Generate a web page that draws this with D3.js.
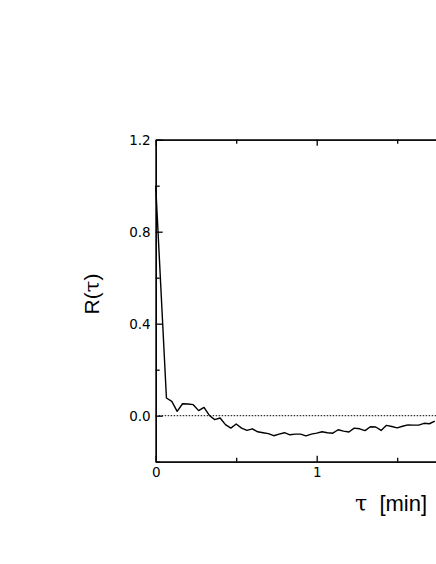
<!DOCTYPE html>
<meta charset="utf-8">
<style>
  body { margin: 0; background: white; }
  svg text { font-family: "Liberation Sans", Arial, sans-serif; fill: black; }
  .tick text { font-family: "DejaVu Sans", sans-serif; font-size: 13.5px; }
</style>
<body>
<div id="chart"></div>
<script src="https://d3js.org/d3.v7.min.js"></script>
<script>

// lag in minutes (2 s steps) and autocorrelation R(tau)
var tau = [0, 2, 3, 4, 5, 6, 7, 8, 9, 10, 11, 12, 13, 14, 15, 16, 17, 18, 19, 20,
  21, 22, 23, 24, 25, 26, 27, 28, 29, 30, 31, 32, 33, 34, 35, 36, 37, 38, 39, 40,
  41, 42, 43, 44, 45, 46, 47, 48, 49, 50, 51, 52].map(function(k) { return k / 30; });
var R = [1.0, 0.077, 0.062, 0.019, 0.052, 0.051, 0.048, 0.022, 0.036, 0.001, -0.017,
  -0.010, -0.039, -0.054, -0.036, -0.054, -0.064, -0.057, -0.070, -0.074, -0.078,
  -0.087, -0.080, -0.074, -0.083, -0.080, -0.080, -0.088, -0.080, -0.076, -0.070,
  -0.074, -0.076, -0.061, -0.067, -0.071, -0.054, -0.057, -0.065, -0.048, -0.049,
  -0.064, -0.042, -0.047, -0.053, -0.046, -0.040, -0.041, -0.041, -0.033, -0.035, -0.024];

var xMajor = [0, 1, 2], xMinor = [0.5, 1.5];
var xLabels = ["0", "1", ""];
var yMajor = [0.0, 0.4, 0.8, 1.2], yMinor = [-0.2, 0.2, 0.6, 1.0];
var yLabels = ["0.0", "0.4", "0.8", "1.2"];

var width = 436, height = 564;
var plotLeft = 155.7, plotRight = 477.7, plotTop = 139.7, plotBottom = 461.7;

var svg = d3.select("#chart")
  .append("svg")
    .attr("width", width)
    .attr("height", height);

var x = d3.scaleLinear().domain([0, 2]).range([plotLeft, plotRight]);
var y = d3.scaleLinear().domain([-0.2, 1.2]).range([plotBottom, plotTop]);

function styleAxis(g) {
  g.selectAll("path, line").attr("stroke", "black").attr("stroke-width", 1.3);
}

// left axis
svg.append("g")
  .attr("transform", "translate(" + plotLeft + ",0)")
  .call(d3.axisLeft(y).tickValues(yMajor).tickSize(-7).tickSizeOuter(0).tickPadding(5)
    .tickFormat(function(d, i) { return yLabels[i]; }))
  .call(styleAxis);
svg.append("g")
  .attr("transform", "translate(" + plotLeft + ",0)")
  .call(d3.axisLeft(y).tickValues(yMinor).tickSize(-4).tickSizeOuter(0).tickFormat(""))
  .call(styleAxis);

// right axis (mostly off the page)
svg.append("g")
  .attr("transform", "translate(" + plotRight + ",0)")
  .call(d3.axisRight(y).tickValues(yMajor).tickSize(-7).tickSizeOuter(0).tickFormat(""))
  .call(styleAxis);

// bottom axis
svg.append("g")
  .attr("transform", "translate(0," + plotBottom + ")")
  .call(d3.axisBottom(x).tickValues(xMajor).tickSize(-6).tickSizeOuter(0).tickPadding(6)
    .tickFormat(function(d, i) { return xLabels[i]; }))
  .call(styleAxis);
svg.append("g")
  .attr("transform", "translate(0," + plotBottom + ")")
  .call(d3.axisBottom(x).tickValues(xMinor).tickSize(-4).tickSizeOuter(0).tickFormat(""))
  .call(styleAxis);

// top axis
svg.append("g")
  .attr("transform", "translate(0," + plotTop + ")")
  .call(d3.axisTop(x).tickValues(xMajor).tickSize(-6).tickSizeOuter(0).tickFormat(""))
  .call(styleAxis);
svg.append("g")
  .attr("transform", "translate(0," + plotTop + ")")
  .call(d3.axisTop(x).tickValues(xMinor).tickSize(-4).tickSizeOuter(0).tickFormat(""))
  .call(styleAxis);

// zero reference line
svg.append("line")
  .attr("x1", x(0)).attr("x2", x(2))
  .attr("y1", y(0)).attr("y2", y(0))
  .attr("stroke", "black")
  .attr("stroke-width", 1)
  .attr("stroke-dasharray", "1.5,1.5");

// the correlation curve
var line = d3.line()
  .x(function(d, i) { return x(tau[i]); })
  .y(function(d) { return y(d); });

svg.append("path")
  .datum(R)
  .attr("fill", "none")
  .attr("stroke", "black")
  .attr("stroke-width", 1.4)
  .attr("stroke-linejoin", "round")
  .attr("d", line);

// axis titles
svg.append("text")
  .attr("transform", "translate(99,294) rotate(-90)")
  .attr("text-anchor", "middle")
  .style("font-size", "21px")
  .html('R(<tspan style="font-family: \'DejaVu Serif\', \'Liberation Serif\', serif">τ</tspan>)');

svg.append("text")
  .attr("x", 355)
  .attr("y", 511)
  .attr("xml:space", "preserve")
  .style("font-size", "22px")
  .html('<tspan style="font-family: \'DejaVu Serif\', \'Liberation Serif\', serif">τ</tspan>  [min]');

</script>
</body>
